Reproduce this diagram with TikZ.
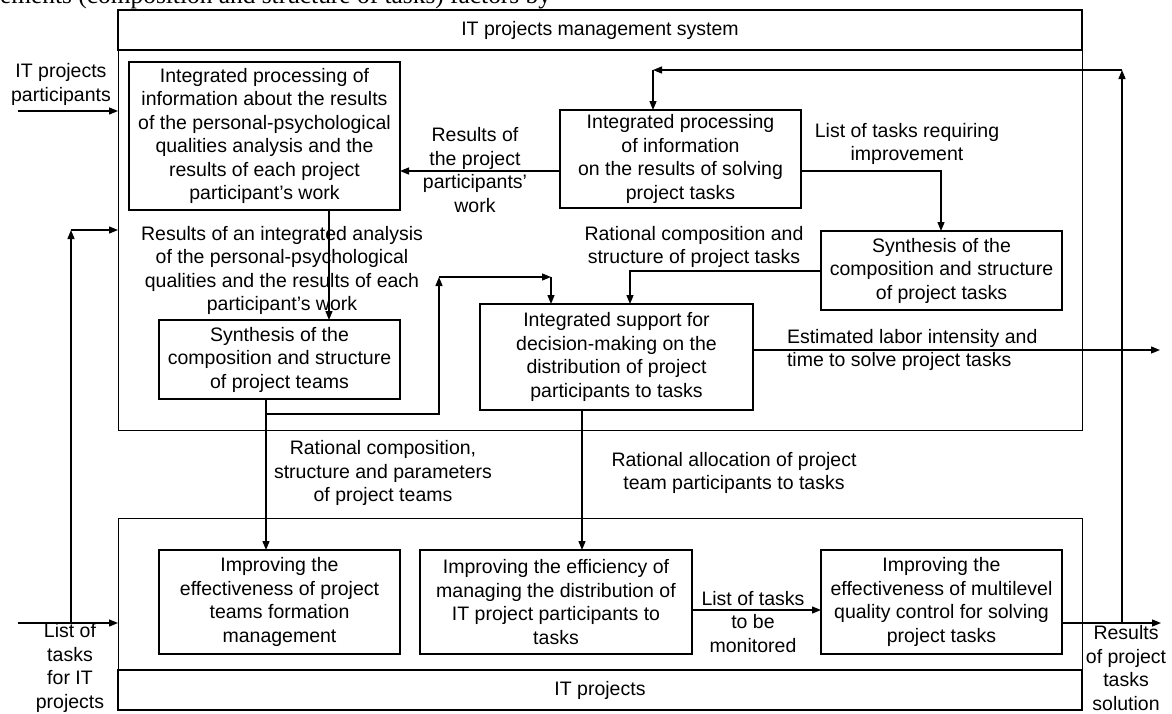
\documentclass[tikz,border=0pt]{standalone}
\usepackage{fontspec}
\setmainfont{Liberation Sans}
\newfontfamily\cutserif{Liberation Serif}
\usetikzlibrary{arrows.meta}
\begin{document}
\begin{tikzpicture}[x=1pt,y=-1pt,
  every node/.style={font=\fontsize{19.5}{23.5}\selectfont, align=center, inner sep=0pt, outer sep=0pt},
  box/.style={draw, line width=1.3pt},
  frame/.style={draw, line width=1pt},
  arr/.style={line width=1.3pt, -{Triangle[length=9pt,width=7pt]}},
  lbl/.style={}]
\useasboundingbox (0,0) rectangle (1172,713);
% cut-off line of text at the very top
\begin{scope}
\clip (0,0) rectangle (1172,713);
\node[font=\cutserif\fontsize{25.4}{30}\selectfont, anchor=base east] (cut) at (551,3.5) {elements (composition and structure of tasks) factors by};
\end{scope}
% frames
\node[frame, minimum width=964, minimum height=420] (sys) at (600,220) {};
\node[box, minimum width=964, minimum height=40] (hdr) at (600,30) {IT projects management system};
\node[frame, minimum width=964, minimum height=192] (proj) at (600,614) {};
\node[box, minimum width=964, minimum height=40] (band) at (600,690) {IT projects};
% boxes
\node[box, minimum width=271, minimum height=148] (A) at (264.5,136) {Integrated processing of\\information about the results\\of the personal-psychological\\qualities analysis and the\\results of each project\\participant's work};
\node[box, minimum width=241, minimum height=98] (B) at (680.5,159) {Integrated processing\\of information\\on the results of solving\\project tasks};
\node[box, minimum width=241, minimum height=79] (C) at (941.5,270.5) {Synthesis of the\\composition and structure\\of project tasks};
\node[box, minimum width=273, minimum height=106] (D) at (616.5,357) {Integrated support for\\decision-making on the\\distribution of project\\participants to tasks};
\node[box, minimum width=241, minimum height=79] (E) at (279.5,359.5) {Synthesis of the\\composition and structure\\of project teams};
\node[box, minimum width=241, minimum height=104] (F) at (279.5,602) {Improving the\\effectiveness of project\\teams formation\\management};
\node[box, minimum width=272, minimum height=104] (G) at (556,602) {Improving the efficiency of\\managing the distribution of\\IT project participants to\\tasks};
\node[box, minimum width=241, minimum height=104] (H) at (941.5,602) {Improving the\\effectiveness of multilevel\\quality control for solving\\project tasks};
% coordinates
\coordinate (inP) at (18,111);
\coordinate (inL) at (18,623);
\coordinate (br) at (71,623);
\coordinate (brt) at (71,230);
\coordinate (ba) at (0,171);
\coordinate (bc) at (941,171);
\coordinate (cd) at (630,271);
\coordinate (ae) at (329,0);
\coordinate (ef) at (266,0);
\coordinate (ed1) at (266,414);
\coordinate (ed2) at (439,414);
\coordinate (ed3) at (439,277);
\coordinate (ed4) at (551,277);
\coordinate (dg) at (582,0);
\coordinate (dout) at (1160,350);
\coordinate (gh) at (0,610);
\coordinate (hout) at (1161,623);
\coordinate (fb1) at (1122,623);
\coordinate (fb2) at (1122,70);
\coordinate (fb3) at (653,70);
% connectors
\draw[arr] (inP) -- (inP -| sys.west);
\draw[arr] (inL) -- (inL -| proj.west);
\draw[arr] (br) -- (brt);
\draw[arr] (brt) -- (brt -| sys.west);
\draw[arr] (B.west |- ba) -- (A.east |- ba);
\draw[arr] (B.east |- bc) -- (bc) -- (C.north -| bc);
\draw[arr] (C.west |- cd) -- (cd) -- (D.north -| cd);
\draw[arr] (A.south -| ae) -- (E.north -| ae);
\draw[arr] (E.south -| ef) -- (F.north -| ef);
\draw[arr] (ed1) -- (ed2) -- (ed3);
\draw[arr] (ed3) -- (ed4);
\draw[arr] (ed4) -- (D.north -| ed4);
\draw[arr] (D.south -| dg) -- (G.north -| dg);
\draw[arr] (D.east |- dout) -- (dout);
\draw[arr] (G.east |- gh) -- (H.west |- gh);
\draw[arr] (H.east |- hout) -- (hout);
\draw[arr] (fb1) -- (fb2);
\draw[arr] (fb2) -- (fb3);
\draw[arr] (fb3) -- (B.north -| fb3);
% labels
\node[lbl] (lP) at (61,84.5) {IT projects\\participants};
\node[lbl] (lL) at (70,668) {List of\\tasks\\for IT\\projects};
\node[lbl] (lR) at (1126,668) {Results\\of project\\tasks\\solution};
\node[lbl] (l1) at (475,170) {Results of\\the project\\participants'\\work};
\node[lbl] (l2) at (907,144) {List of tasks requiring\\improvement};
\node[lbl] (l3) at (694,247) {Rational composition and\\structure of project tasks};
\node[lbl, align=left, anchor=west] (l4) at (787,350) {Estimated labor intensity and\\time to solve project tasks};
\node[lbl] (l5) at (282,270.5) {Results of an integrated analysis\\of the personal-psychological\\qualities and the results of each\\participant's work};
\node[lbl] (l6) at (383,473) {Rational composition,\\structure and parameters\\of project teams};
\node[lbl] (l7) at (734,473) {Rational allocation of project\\team participants to tasks};
\node[lbl] (l8) at (753,622) {List of tasks\\to be\\monitored};
\end{tikzpicture}
\end{document}
